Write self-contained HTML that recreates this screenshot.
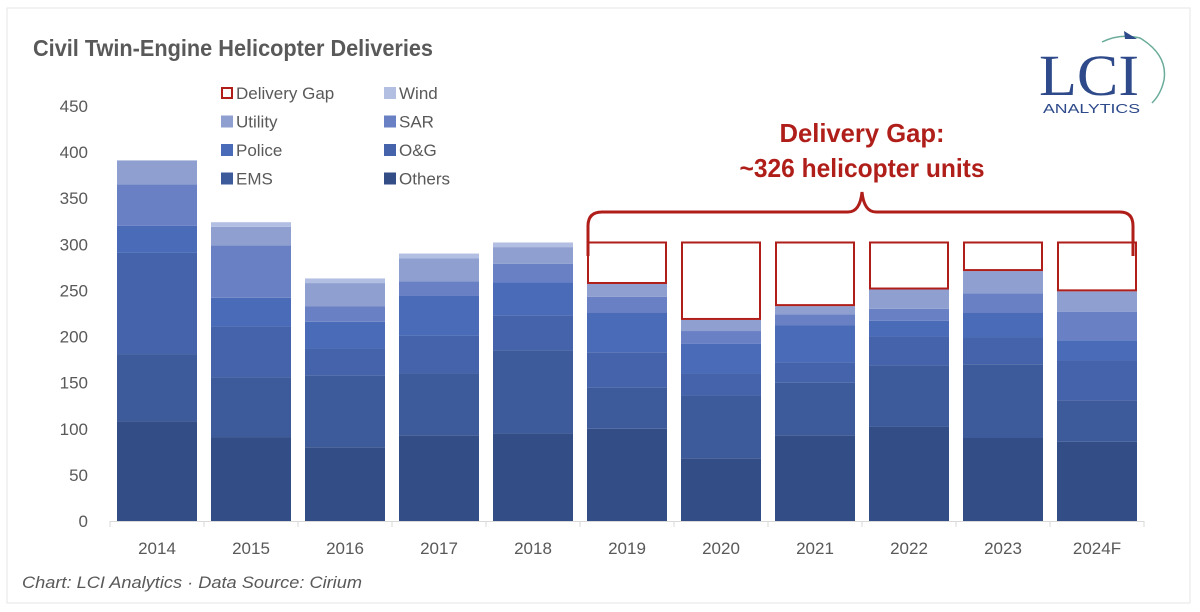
<!DOCTYPE html>
<html><head><meta charset="utf-8"><style>
body{margin:0;background:#fff;}
svg{display:block;font-family:"Liberation Sans",sans-serif;}
</style></head><body>
<svg width="1200" height="612" viewBox="0 0 1200 612">
<rect x="7" y="8" width="1183" height="595" fill="#fff" stroke="#e6e6e6"/>
<text x="33" y="56" font-size="23" font-weight="bold" fill="#595959" textLength="400" lengthAdjust="spacingAndGlyphs">Civil Twin-Engine Helicopter Deliveries</text>
<g id="yaxis"></g>
<g id="bars"></g>
<g id="xaxis"></g>
<g id="legend"></g>
<path d="M588,256 L588,226 Q588,212 602,212 L848,212 Q860,212 862,192 Q864,212 876,212 L1120,212 Q1133,212 1133,226 L1133,256" fill="none" stroke="#b01e1a" stroke-width="3"/>
<text x="862" y="142" text-anchor="middle" font-size="26" font-weight="bold" fill="#b01e1a" textLength="165" lengthAdjust="spacingAndGlyphs">Delivery Gap:</text>
<text x="862" y="177" text-anchor="middle" font-size="26" font-weight="bold" fill="#b01e1a" textLength="245" lengthAdjust="spacingAndGlyphs">~326 helicopter units</text>
<g>
<text x="1039" y="95" font-family="Liberation Serif,serif" font-size="58" fill="#2e4a8a" textLength="100" lengthAdjust="spacingAndGlyphs">LCI</text>
<text x="1043" y="113" font-size="13" fill="#2e4a8a" textLength="97" lengthAdjust="spacingAndGlyphs">ANALYTICS</text>
<path d="M1102,42 Q1120,33 1140,38 Q1168,55 1164,80 Q1161,94 1152,103" fill="none" stroke="#6aab9a" stroke-width="1.5"/>
<path d="M1124,31 L1137,39 L1125,39 Z" fill="#2e4a8a"/>
</g>
<text x="22" y="588" font-size="17" font-style="italic" fill="#595959" textLength="340" lengthAdjust="spacingAndGlyphs">Chart: LCI Analytics · Data Source: Cirium</text>
</svg>
<script>
const categories=["2014","2015","2016","2017","2018","2019","2020","2021","2022","2023","2024F"];
const others=[108,91,80,93,95,100,68,93,102,90,86];
const ems=[73,65,78,67,90,45,68,57,67,80,45];
const og=[110,55,29,41,38,38,24,22,31,29,43];
const police=[29,31,29,43,36,43,32,40,17,27,22];
const sar=[45,57,17,16,20,17,14,12,13,21,31];
const utility=[26,20,25,25,18,14,12,9,21,24,22];
const wind=[0,5,5,5,5,0,0,0,0,0,0];
const target=[0,0,0,0,0,302,302,302,302,302,302];
const yTicks=[0,50,100,150,200,250,300,350,400,450];
const seriesNames=["Others","EMS","O&G","Police","SAR","Utility","Wind"];
const series=[others,ems,og,police,sar,utility,wind];
const colors=["#334e87","#3d5a9b","#4463ab","#4a6cb8","#6a80c4","#8fa0d0","#b2bfe2"];
const NS="http://www.w3.org/2000/svg";
const x0=110,step=94,bw=80,yBase=521,pxPer=415/450;
const y=v=>yBase-v*pxPer;
const xc=i=>x0+step*i+step/2;
function mk(t,a,p){const e=document.createElementNS(NS,t);for(const k in a)e.setAttribute(k,a[k]);p.appendChild(e);return e;}
const ya=document.getElementById('yaxis');
yTicks.forEach(v=>{const t=mk('text',{x:88,y:y(v)+6,'text-anchor':'end','font-size':17,fill:'#595959'},ya);


t.textContent=v;});
const bg=document.getElementById('bars');
categories.forEach((c,i)=>{let cum=0;
series.forEach((s,k)=>{const v=s[i];if(v<=0)return;
const r=mk('rect',{x:xc(i)-bw/2,y:y(cum+v),width:bw,height:v*pxPer,fill:colors[k]},bg);


cum+=v;});
if(target[i]>cum){const g=mk('rect',{x:xc(i)-bw/2+1,y:y(target[i]),width:bw-2,height:(target[i]-cum)*pxPer-1,fill:'#fff',stroke:'#b01e1a','stroke-width':2},bg);

}
});
const xa=document.getElementById('xaxis');
const ax=mk('line',{x1:x0,x2:x0+step*categories.length,y1:yBase+0.5,y2:yBase+0.5,stroke:'#d9d9d9','stroke-width':1},xa);


for(let i=0;i<=categories.length;i++){const tk=mk('line',{x1:x0+step*i,x2:x0+step*i,y1:yBase,y2:yBase+6,stroke:'#d9d9d9'},xa);

}
categories.forEach((c,i)=>{const t=mk('text',{x:xc(i),y:554,'text-anchor':'middle','font-size':17,fill:'#595959'},xa);


t.textContent=c;});
const lg=document.getElementById('legend');
const items=[["Delivery Gap",null],["Wind","#b2bfe2"],["Utility","#8fa0d0"],["SAR","#6a80c4"],["Police","#4a6cb8"],["O&G","#4463ab"],["EMS","#3d5a9b"],["Others","#334e87"]];
items.forEach((it,j)=>{const col=j%2,row=Math.floor(j/2);const lx=col?384:221,ly=87+row*28.5;
const sw=it[1]?mk('rect',{x:lx,y:ly,width:12,height:12,fill:it[1]},lg):mk('rect',{x:lx+1,y:ly+1,width:10,height:10,fill:'#fff',stroke:'#b01e1a','stroke-width':2},lg);


const t=mk('text',{x:lx+15,y:ly+12,'font-size':17,fill:'#595959'},lg);


t.textContent=it[0];});
</script>
</body></html>
